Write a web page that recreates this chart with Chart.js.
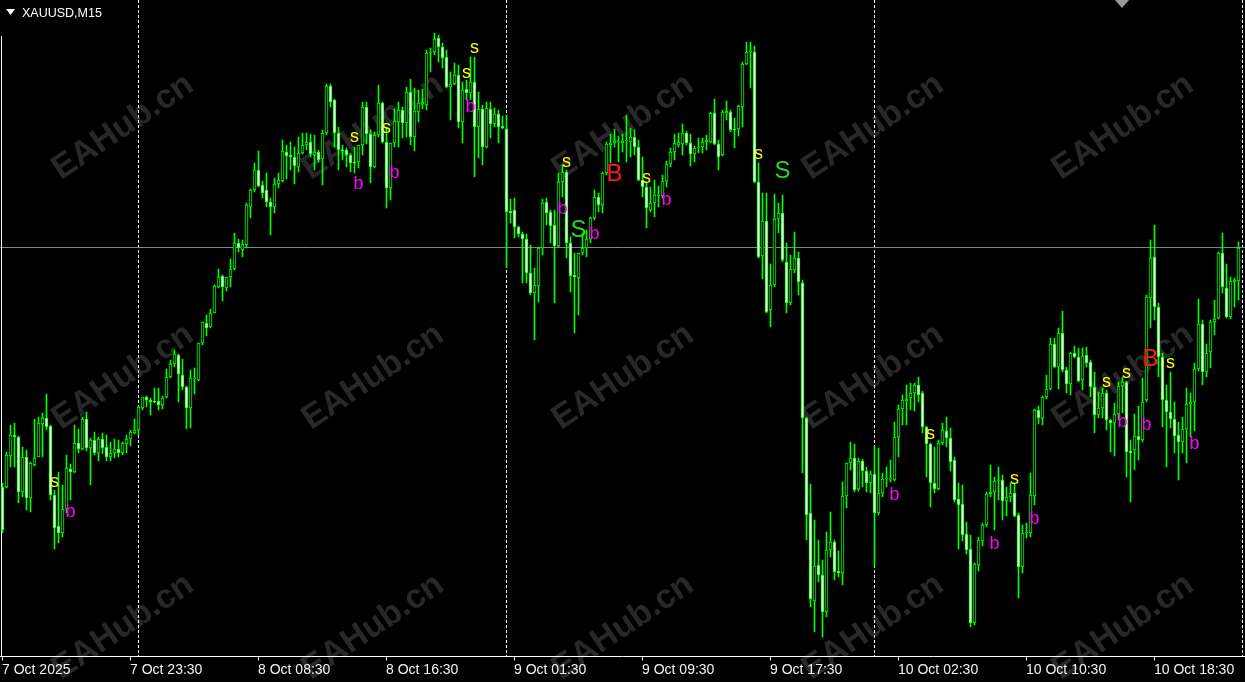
<!DOCTYPE html>
<html>
<head>
<meta charset="utf-8">
<title>XAUUSD,M15</title>
<script src="https://cdn.jsdelivr.net/npm/chart.js@4.4.1/dist/chart.umd.min.js"></script>
<style>
  html, body { margin: 0; padding: 0; background: #000; }
  #wrap { position: relative; width: 1245px; height: 682px; }
</style>
</head>
<body>
<div id="wrap"><canvas id="priceChart"></canvas></div>
<script>
// M15 candles, XAUUSD, 7 Oct 15:30 -> 10 Oct
const open = [
  3972.6,3972.6,3978.8,3983.0,3982.6,3971.6,3978.6,3970.4,3977.0,3978.6,
  3985.2,3986.4,3984.8,3971.0,3964.8,3963.4,3968.2,3976.2,3975.6,3981.4,
  3980.2,3986.2,3980.4,3982.0,3979.4,3982.2,3980.6,3978.6,3979.4,3980.2,
  3979.4,3981.2,3982.2,3983.4,3984.0,3988.4,3990.6,3990.0,3989.8,3989.8,
  3989.0,3990.6,3994.6,3997.2,3999.0,3995.0,3992.6,3988.4,3994.2,3994.0,
  4001.4,4005.4,4004.6,4007.4,4012.6,4014.8,4012.4,4014.6,4016.2,4021.4,
  4020.0,4021.0,4028.6,4032.0,4036.0,4033.0,4032.0,4029.6,4028.6,4033.2,
  4033.8,4039.6,4039.0,4038.6,4036.6,4039.4,4041.0,4041.6,4039.0,4039.6,
  4038.2,4043.4,4052.8,4050.0,4043.4,4040.0,4040.0,4039.0,4037.6,4037.6,
  4041.0,4048.6,4043.2,4036.6,4043.0,4049.4,4041.6,4032.4,4041.4,4045.6,
  4048.0,4045.4,4051.6,4042.6,4047.6,4049.2,4049.0,4059.4,4059.6,4062.4,
  4060.6,4058.6,4052.6,4053.2,4055.0,4045.6,4052.2,4051.4,4053.6,4044.6,
  4048.2,4040.6,4048.2,4045.2,4047.2,4044.8,4044.2,4027.8,4028.0,4024.6,
  4023.2,4022.2,4015.4,4011.4,4012.8,4020.4,4029.6,4027.6,4025.0,4020.8,
  4033.6,4035.6,4021.4,4015.0,4014.4,4019.4,4020.4,4022.2,4026.4,4030.6,
  4029.0,4035.4,4041.0,4041.4,4041.6,4041.4,4041.8,4041.6,4042.6,4040.6,
  4034.0,4032.6,4028.0,4029.4,4030.8,4030.8,4033.8,4037.2,4039.6,4041.0,
  4041.2,4043.4,4041.4,4039.2,4040.4,4040.6,4041.6,4041.6,4047.4,4041.2,
  4039.0,4047.4,4047.6,4044.2,4044.2,4048.6,4057.2,4059.6,4059.6,4033.6,
  4018.8,4025.8,4008.0,4013.0,4026.2,4027.4,4017.6,4009.4,4016.0,4018.4,
  4013.4,3986.4,3967.4,3949.8,3957.0,3955.0,3947.6,3960.0,3961.6,3955.8,
  3955.4,3970.8,3977.4,3978.4,3972.2,3977.8,3975.8,3973.4,3975.2,3967.4,
  3971.4,3974.2,3974.2,3974.0,3982.6,3988.2,3989.8,3990.4,3991.4,3993.0,
  3991.4,3984.6,3981.2,3973.4,3972.2,3981.4,3983.8,3982.4,3978.0,3970.2,
  3969.2,3963.2,3960.2,3945.4,3957.0,3961.8,3965.0,3971.2,3971.6,3973.8,
  3974.0,3969.8,3970.6,3971.4,3967.0,3956.6,3963.4,3963.4,3970.8,3988.0,
  3986.4,3990.6,3992.2,4001.2,3996.6,4003.4,3996.0,3993.2,3999.4,3998.6,
  3994.0,3999.0,3997.6,3992.6,3987.0,3988.4,3991.4,3986.0,3985.4,3987.2,
  3992.8,3993.6,3979.8,3980.0,3982.8,3982.0,3990.0,4010.4,4018.6,4008.6,
  3998.6,3990.0,3987.6,3986.2,3983.0,3981.6,3984.2,3989.2,3989.6,3996.2,
  4005.2,3995.6,3999.6,4005.6,4006.4,4019.4,4012.4,4006.6,4013.6,4013.8
];
const high = [
  3973.4,3979.6,3985.0,3985.4,3982.8,3980.6,3980.0,3977.6,3986.2,3986.6,
  3987.4,3991.2,3985.0,3972.0,3975.6,3973.0,3979.0,3977.2,3985.0,3984.2,
  3986.6,3987.6,3982.4,3983.6,3982.6,3983.4,3983.0,3981.6,3982.2,3982.0,
  3981.6,3983.0,3984.0,3986.2,3988.8,3990.6,3990.8,3990.4,3992.4,3992.4,
  3990.8,3996.2,3998.0,4000.0,3999.2,3998.2,3992.8,3996.0,3996.4,4001.4,
  4005.6,4007.0,4008.2,4013.0,4016.2,4015.0,4014.6,4018.2,4023.4,4022.2,
  4022.0,4029.4,4032.2,4037.4,4039.8,4033.8,4035.4,4030.4,4034.4,4035.4,
  4042.0,4041.0,4041.6,4040.6,4042.6,4043.4,4043.4,4043.2,4043.0,4040.0,
  4044.0,4053.2,4053.2,4050.2,4044.6,4041.0,4040.4,4039.4,4040.6,4041.0,
  4049.6,4049.6,4044.0,4043.6,4053.0,4049.6,4044.6,4041.4,4048.2,4049.6,
  4048.6,4052.6,4054.2,4052.4,4052.0,4052.2,4060.0,4060.4,4063.4,4063.0,
  4061.4,4060.0,4055.6,4057.4,4057.0,4053.6,4054.0,4058.6,4058.6,4051.6,
  4049.0,4049.6,4049.6,4048.4,4048.0,4046.8,4047.0,4030.2,4030.4,4024.8,
  4023.6,4023.2,4021.0,4016.4,4020.6,4030.2,4030.4,4028.0,4028.0,4035.4,
  4037.0,4036.0,4022.6,4019.4,4019.4,4023.4,4024.0,4026.6,4032.0,4031.4,
  4035.6,4041.6,4043.2,4044.2,4042.8,4043.2,4047.0,4044.4,4044.0,4042.0,
  4038.6,4033.6,4032.6,4034.0,4032.8,4035.0,4037.8,4040.4,4043.2,4043.4,
  4045.2,4043.8,4043.2,4040.8,4042.4,4042.4,4043.0,4047.6,4050.2,4042.0,
  4048.0,4049.8,4048.0,4046.4,4049.0,4057.6,4061.6,4061.6,4060.8,4037.4,
  4031.4,4031.4,4017.2,4031.2,4029.4,4031.0,4021.4,4019.0,4023.6,4019.6,
  4014.0,3986.6,3973.2,3966.0,3962.0,3958.0,3963.6,3967.6,3962.0,3959.8,
  3973.6,3977.4,3981.6,3981.2,3978.4,3978.2,3976.6,3975.8,3980.8,3980.4,
  3975.4,3976.6,3978.0,3985.6,3989.0,3991.0,3993.0,3993.4,3993.4,3994.6,
  3991.8,3984.8,3981.4,3980.6,3982.0,3985.4,3986.6,3984.4,3978.6,3973.4,
  3973.0,3965.6,3963.0,3957.4,3962.6,3965.4,3971.6,3977.0,3974.6,3976.6,
  3975.0,3972.6,3973.4,3973.4,3967.4,3965.0,3965.4,3975.4,3988.2,3988.8,
  3990.8,3995.0,4002.4,4002.4,4004.4,4007.8,3996.6,3999.6,4000.8,4000.4,
  4000.4,4000.6,3998.0,3995.6,3991.6,3992.4,3992.0,3986.2,3989.4,3993.6,
  3994.6,3993.8,3982.0,3987.2,3988.8,3994.4,4011.0,4022.0,4025.0,4009.4,
  3999.4,3993.0,3995.6,3989.6,3985.6,3986.6,3992.4,3991.4,3997.4,4010.2,
  4006.0,4001.2,4006.0,4010.0,4019.6,4023.4,4017.2,4014.6,4014.4,4021.6
];
const low = [
  3963.4,3972.4,3976.6,3976.6,3969.4,3970.6,3968.0,3967.6,3976.8,3978.6,
  3978.6,3984.0,3970.0,3960.2,3961.4,3962.6,3967.4,3970.0,3975.4,3979.4,
  3980.0,3979.8,3973.0,3979.0,3977.8,3979.2,3977.8,3977.8,3978.4,3978.6,
  3979.0,3979.4,3980.8,3983.2,3983.0,3988.0,3988.6,3987.0,3989.4,3988.0,
  3988.2,3990.4,3994.4,3996.6,3989.6,3992.0,3984.2,3984.4,3991.2,3993.8,
  4001.0,4002.8,4004.4,4007.4,4012.4,4009.8,4011.8,4012.6,4016.0,4019.6,
  4018.6,4020.4,4026.4,4031.6,4032.6,4030.4,4028.6,4023.0,4027.4,4032.4,
  4033.6,4034.2,4036.0,4033.2,4035.6,4039.2,4040.0,4038.6,4036.0,4037.6,
  4033.0,4043.0,4048.6,4040.6,4036.0,4038.0,4036.6,4035.6,4035.4,4036.4,
  4039.0,4041.2,4033.4,4036.4,4042.6,4041.4,4028.4,4030.0,4040.6,4040.6,
  4042.4,4042.6,4041.0,4039.8,4045.6,4048.2,4048.0,4055.6,4059.0,4057.6,
  4056.4,4052.4,4046.0,4053.0,4044.4,4041.4,4050.0,4050.0,4034.6,4038.4,
  4037.0,4040.4,4042.4,4044.6,4041.4,4044.2,4016.4,4025.4,4022.4,4022.6,
  4013.4,4013.4,4011.0,4002.0,4009.6,4019.0,4025.0,4021.4,4009.4,4020.6,
  4030.6,4018.4,4011.6,4003.4,4007.0,4019.0,4018.6,4021.4,4026.0,4027.6,
  4027.4,4035.0,4037.4,4040.6,4037.6,4039.6,4037.6,4038.6,4039.0,4033.8,
  4030.6,4024.4,4027.6,4026.6,4028.6,4030.4,4032.6,4036.6,4038.0,4040.6,
  4039.0,4041.0,4036.8,4037.6,4039.4,4039.4,4040.0,4041.4,4041.0,4036.0,
  4038.8,4046.0,4043.6,4040.4,4042.8,4044.6,4057.0,4052.4,4033.4,4018.4,
  4014.2,4007.4,4004.6,4012.6,4023.4,4017.6,4007.4,4009.0,4015.4,4011.0,
  3975.4,3962.0,3948.6,3943.6,3953.6,3942.6,3946.6,3958.6,3954.0,3954.6,
  3953.0,3968.4,3976.0,3971.6,3971.8,3972.6,3971.6,3971.4,3956.6,3967.0,
  3970.6,3972.6,3973.6,3973.8,3978.6,3985.0,3985.0,3988.0,3987.8,3989.6,
  3983.4,3974.6,3968.6,3971.4,3972.0,3981.0,3980.6,3975.8,3969.6,3960.2,
  3961.8,3959.2,3944.6,3945.0,3955.8,3960.8,3964.6,3970.6,3964.0,3970.0,
  3966.0,3966.8,3969.6,3966.6,3950.4,3955.4,3962.4,3962.6,3969.0,3985.2,
  3985.0,3990.2,3992.0,3996.4,3992.2,3995.6,3991.4,3991.0,3998.4,3993.6,
  3992.0,3996.6,3990.6,3983.4,3986.4,3986.4,3984.0,3979.6,3978.8,3986.0,
  3987.4,3974.6,3969.6,3976.0,3978.0,3981.6,3989.6,4004.4,4006.0,3994.6,
  3984.6,3976.6,3984.4,3979.4,3974.0,3979.4,3977.4,3982.6,3983.8,3995.8,
  3993.0,3994.6,3996.4,4003.0,4006.2,4011.4,4006.4,4006.2,4008.6,4010.0
];
const close = [
  3964.0,3979.0,3983.0,3982.6,3971.6,3978.6,3970.4,3977.4,3978.4,3985.4,
  3986.4,3984.6,3971.0,3964.4,3963.4,3968.2,3976.4,3975.6,3981.4,3980.2,
  3986.2,3980.4,3982.0,3979.4,3982.2,3980.4,3978.6,3979.4,3980.2,3979.4,
  3981.4,3982.2,3983.6,3984.0,3988.6,3990.6,3990.0,3989.6,3989.6,3989.0,
  3990.4,3994.6,3997.2,3999.2,3995.2,3992.6,3988.4,3994.4,3994.4,4001.4,
  4005.6,4004.4,4007.4,4012.8,4014.6,4012.6,4014.6,4016.2,4021.4,4020.4,
  4021.2,4029.0,4032.0,4036.0,4032.8,4031.4,4029.6,4028.6,4033.2,4034.0,
  4039.8,4038.8,4038.6,4036.8,4039.4,4041.0,4041.6,4039.2,4039.6,4038.0,
  4043.4,4052.8,4049.6,4043.4,4040.0,4039.8,4039.0,4037.4,4037.4,4041.0,
  4048.6,4043.2,4036.6,4043.0,4049.4,4041.6,4032.4,4041.4,4045.8,4048.0,
  4045.4,4051.6,4042.6,4047.8,4049.4,4049.6,4059.4,4059.6,4062.2,4060.6,
  4058.4,4052.6,4053.2,4055.0,4045.6,4052.0,4051.4,4053.6,4044.6,4048.2,
  4040.6,4048.4,4045.2,4047.2,4044.6,4044.4,4027.6,4027.4,4024.6,4023.2,
  4022.2,4015.4,4011.4,4013.0,4020.4,4029.4,4027.4,4024.8,4020.8,4033.6,
  4035.6,4021.4,4014.8,4014.6,4019.4,4020.4,4022.2,4026.4,4030.6,4029.0,
  4035.4,4041.2,4041.4,4041.8,4041.8,4041.8,4042.0,4042.6,4040.6,4034.0,
  4032.6,4028.4,4029.4,4031.0,4031.0,4033.8,4037.2,4039.6,4041.4,4041.6,
  4043.4,4041.4,4039.2,4040.4,4040.6,4041.6,4042.0,4047.4,4041.2,4038.6,
  4047.6,4047.8,4044.0,4044.0,4048.8,4057.2,4059.6,4059.8,4033.6,4018.6,
  4025.8,4007.6,4013.0,4026.2,4027.4,4018.0,4009.4,4016.2,4018.4,4013.6,
  3986.4,3967.0,3950.2,3956.8,3955.0,3947.6,3960.0,3961.6,3955.6,3955.4,
  3970.8,3977.4,3978.4,3972.0,3977.8,3975.8,3973.4,3975.2,3967.4,3971.4,
  3974.2,3974.4,3974.4,3982.6,3988.2,3990.0,3990.2,3991.4,3993.0,3991.0,
  3984.6,3981.2,3973.4,3972.2,3981.4,3984.0,3982.4,3977.6,3970.0,3969.0,
  3963.0,3960.0,3945.4,3957.2,3962.0,3965.0,3971.2,3971.6,3973.8,3974.0,
  3969.8,3970.6,3971.4,3966.8,3956.6,3963.4,3963.6,3971.0,3988.0,3986.4,
  3990.6,3992.2,4001.2,3996.6,4003.4,3996.0,3993.2,3999.4,3998.6,3993.8,
  3998.8,3997.4,3992.6,3987.0,3988.4,3991.4,3986.0,3985.4,3987.2,3992.8,
  3993.6,3979.6,3979.4,3982.8,3982.0,3989.6,4010.6,4018.4,4008.6,3998.6,
  3990.0,3987.6,3986.2,3982.8,3981.6,3984.2,3989.2,3989.6,3996.2,4005.2,
  3995.6,3999.4,4005.6,4006.2,4019.4,4012.6,4006.6,4013.8,4014.0,4020.4
];

// time axis
const tickBars = [0, 32, 64, 96, 128, 160, 192, 224, 256, 288];
const tickLabels = ['7 Oct 2025', '7 Oct 23:30', '8 Oct 08:30', '8 Oct 16:30', '9 Oct 01:30',
                    '9 Oct 09:30', '9 Oct 17:30', '10 Oct 02:30', '10 Oct 10:30', '10 Oct 18:30'];
const daySeparators = [34, 126, 218, 310];
const bidPrice = 4020.6;

// indicator signals
const signalBars   = [13, 17, 88, 89, 96, 98, 118, 116, 117, 141, 140, 144, 148, 153, 161,
                      166, 189, 195, 223, 232, 248, 253, 258, 276, 281, 280, 287, 286, 292, 298];
const signalPrices = [3973.6, 3968.0, 4042.6, 4033.6, 4044.4, 4035.8, 4060.4, 4055.4, 4049.0, 4037.6,
                      4028.6, 4024.4, 4023.6, 4035.6, 4034.4, 4030.4, 4039.2, 4036.2, 3971.4, 3983.2,
                      3961.6, 3974.2, 3966.6, 3993.6, 3995.4, 3986.0, 3998.6, 3985.4, 3997.4, 3981.6];
const signalTexts  = ['s','b','s','b','s','b','s','s','b','s','b','S','b','B','s',
                      'b','s','S','b','s','b','s','b','s','s','b','B','b','s','b'];

const slotCount = 311;
const signalColors = { s: '#ffff00', b: '#ff00ff', S: '#22dd22', B: '#ff1a1a' };
const FONT = '"Liberation Sans", Arial, sans-serif';

const mt4Look = {
  id: 'mt4Look',
  beforeDraw(chart) {
    const { ctx, width, height } = chart;
    ctx.save();
    ctx.fillStyle = '#000';
    ctx.fillRect(0, 0, width, height);
    // watermark
    ctx.fillStyle = '#282828';
    ctx.font = 'bold 34px ' + FONT;
    ctx.textAlign = 'center';
    ctx.textBaseline = 'middle';
    [127, 377, 627].forEach(wy => {
      [123, 373, 623, 873, 1123].forEach(wx => {
        ctx.save();
        ctx.translate(wx, wy);
        ctx.rotate(-34 * Math.PI / 180);
        ctx.fillText('EAHub.cn', 0, 0);
        ctx.restore();
      });
    });
    ctx.restore();
  },
  beforeDatasetsDraw(chart) {
    const { ctx, chartArea, scales: { x, y } } = chart;
    ctx.save();
    ctx.lineWidth = 1;
    ctx.strokeStyle = '#ffffff';
    ctx.setLineDash([3, 2]);
    daySeparators.forEach(i => {
      const px = Math.floor(x.getPixelForValue(i)) + 0.5;
      ctx.beginPath();
      ctx.moveTo(px, 0);
      ctx.lineTo(px, chartArea.bottom);
      ctx.stroke();
    });
    ctx.setLineDash([]);

    // bid line
    const by = Math.floor(y.getPixelForValue(bidPrice)) + 0.5;
    ctx.strokeStyle = '#778899';
    ctx.beginPath();
    ctx.moveTo(0, by);
    ctx.lineTo(chart.width, by);
    ctx.stroke();

    // left edge line
    ctx.strokeStyle = '#ffffff';
    ctx.beginPath();
    ctx.moveTo(1.5, 36);
    ctx.lineTo(1.5, chartArea.bottom);
    ctx.stroke();
    ctx.restore();
  },
  afterDatasetsDraw(chart) {
    const { ctx, chartArea, scales: { x, y } } = chart;
    ctx.save();

    // signals
    ctx.textAlign = 'center';
    ctx.textBaseline = 'alphabetic';
    signalBars.forEach((bi, k) => {
      const t = signalTexts[k];
      const big = t === 'S' || t === 'B';
      ctx.font = (big ? '24px ' : '18px ') + FONT;
      ctx.fillStyle = signalColors[t];
      const m = ctx.measureText(t);
      const cx = x.getPixelForValue(bi);
      const cy = y.getPixelForValue(signalPrices[k]);
      ctx.fillText(t, cx, cy + (m.actualBoundingBoxAscent - m.actualBoundingBoxDescent) / 2);
    });

    // time axis
    const ay = chartArea.bottom + 0.5;
    ctx.strokeStyle = '#ffffff';
    ctx.lineWidth = 1;
    ctx.beginPath();
    ctx.moveTo(0, ay);
    ctx.lineTo(chart.width, ay);
    ctx.stroke();
    ctx.font = '14px ' + FONT;
    ctx.fillStyle = '#f2f2f2';
    ctx.textAlign = 'left';
    tickBars.forEach((bi, k) => {
      const px = Math.floor(x.getPixelForValue(bi)) + 0.5;
      ctx.beginPath();
      ctx.moveTo(px, ay);
      ctx.lineTo(px, ay + 4);
      ctx.stroke();
      ctx.fillText(tickLabels[k], px - 0.5, 674);
    });

    // symbol caption
    ctx.fillStyle = '#ffffff';
    ctx.beginPath();
    ctx.moveTo(6, 9);
    ctx.lineTo(15, 9);
    ctx.lineTo(10.5, 15);
    ctx.closePath();
    ctx.fill();
    ctx.font = '12.5px ' + FONT;
    ctx.fillText('XAUUSD,M15', 22, 17);

    // chart shift marker
    ctx.fillStyle = '#9a9a9a';
    ctx.beginPath();
    ctx.moveTo(1115, 0);
    ctx.lineTo(1129, 0);
    ctx.lineTo(1122, 8);
    ctx.closePath();
    ctx.fill();
    ctx.restore();
  }
};

const slots = Array.from({ length: slotCount }, (_, i) => i);
const ctx = document.getElementById('priceChart').getContext('2d');

new Chart(ctx, {
  type: 'bar',
  data: {
    labels: slots,
    datasets: [
      {
        label: 'Body',
        data: open.map((o, i) => [o, close[i]]),
        backgroundColor: open.map((o, i) => close[i] >= o ? '#000000' : '#ffffff'),
        borderColor: '#00ff00',
        borderWidth: 1,
        borderSkipped: false,
        barThickness: 3,
        minBarLength: 1,
        grouped: false,
        order: 0
      },
      {
        label: 'Wick',
        data: low.map((l, i) => [l, high[i]]),
        backgroundColor: '#00ff00',
        borderWidth: 0,
        barThickness: 1,
        grouped: false,
        order: 1
      }
    ]
  },
  options: {
    responsive: true,
    maintainAspectRatio: false,
    animation: false,
    events: [],
    layout: { padding: { left: 0.5, right: 0.5, top: 0, bottom: 26 } },
    plugins: {
      legend: { display: false },
      tooltip: { enabled: false }
    },
    scales: {
      x: { type: 'category', display: false, offset: true },
      y: { display: false, min: 3938.8, max: 4070 }
    }
  },
  plugins: [mt4Look]
});
</script>
</body>
</html>
